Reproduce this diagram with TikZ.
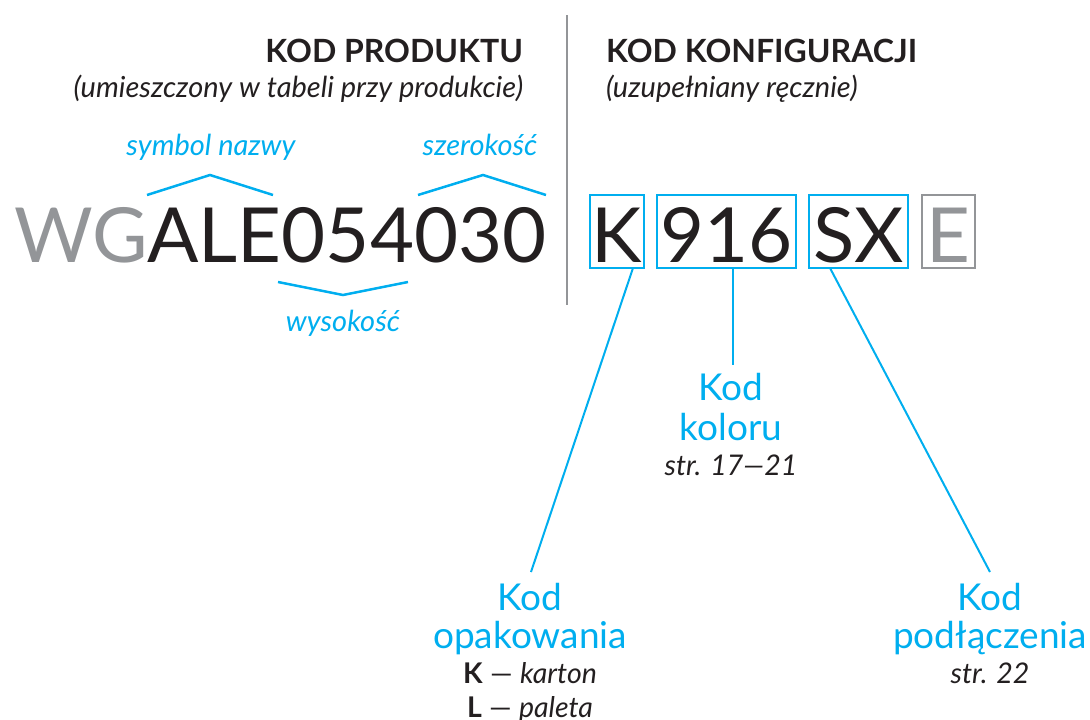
\documentclass[tikz,border=0pt]{standalone}
\usepackage{fontspec}
\setmainfont{Lato}
\usetikzlibrary{calc}
\definecolor{cy}{HTML}{00AEEF}
\definecolor{gr}{HTML}{939598}
\definecolor{tx}{HTML}{231F20}
\begin{document}
\begin{tikzpicture}[x=1pt,y=-1pt,
  every node/.style={inner sep=0pt,outer sep=0pt,text=tx},
  big/.style={font=\fontsize{76}{76}\selectfont},
  head/.style={font=\fontsize{32}{32}\selectfont\bfseries},
  sub/.style={font=\fontsize{29}{29}\selectfont\itshape},
  lab/.style={font=\fontsize{29}{29}\selectfont\itshape,text=cy},
  kod/.style={font=\fontsize{37}{37}\selectfont,text=cy,anchor=base},
  note/.style={font=\fontsize{28.5}{28.5}\selectfont,anchor=base},
  box/.style={draw=cy,line width=2pt,minimum width=#1,minimum height=73pt},
  brace/.style={draw=cy,line width=2.5pt},
  conn/.style={draw=cy,line width=2pt}]
\useasboundingbox (0,0) rectangle (1090,720);
% headings
\node[head,anchor=base east] (hp) at (523,62) {KOD PRODUKTU};
\node[sub,anchor=base east] (hps) at (523,97) {(umieszczony w tabeli przy produkcie)};
\node[head,anchor=base west] (hk) at (606,62) {KOD KONFIGURACJI};
\node[sub,anchor=base west] (hks) at (606,97) {(uzupełniany ręcznie)};
% divider
\draw[gr,line width=2pt] (567,15) -- (567,305);
% product code
\node[big,anchor=base west] (code) at (14,262) {\textcolor{gr}{WG}ALE054030};
% labels and braces
\node[lab,anchor=base] (sym) at (211,155) {symbol nazwy};
\node[lab,anchor=base] (sze) at (480,155) {szerokość};
\node[lab,anchor=base] (wys) at (343,331) {wysokość};
\draw[brace] (147,195) -- (210,175) -- (273,195);
\draw[brace] (418,195) -- (483,175) -- (546,195);
\draw[brace] (278,282) -- (343,295) -- (408,282);
% configuration boxes
\node[box=54pt] (bK) at (617,231.5) {};
\node[box=139pt] (b9) at (726.5,231.5) {};
\node[box=99pt] (bS) at (858.5,231.5) {};
\node[box=53pt,draw=gr] (bE) at (948.5,231.5) {};
\node[big,anchor=base] (tK) at (617,262) {K};
\node[big,anchor=base] (t9) at (726.5,262) {916};
\node[big,anchor=base] (tS) at (858.5,262) {SX};
\node[big,anchor=base,text=gr] (tE) at (948.5,262) {E};
% Kod koloru
\node[kod] (kk1) at (731,400) {Kod};
\node[kod] (kk2) at (731,440) {koloru};
\node[note] (kk3) at (731,475) {\itshape str. 17—21};
% Kod opakowania
\node[kod] (ko1) at (530,610) {Kod};
\node[kod] (ko2) at (530,648) {opakowania};
\node[note] (ko3) at (530,683) {\textbf{K} — \textit{karton}};
\node[note] (ko4) at (530,717) {\textbf{L} — \textit{paleta}};
% Kod podlaczenia
\node[kod] (kp1) at (990,610) {Kod};
\node[kod] (kp2) at (990,648) {podłączenia};
\node[note] (kp3) at (990,683) {\itshape str. 22};
% connectors
\coordinate (eK) at ($(bK.south east)+(-11,0)$);
\coordinate (eS) at ($(bS.south west)+(21,0)$);
\coordinate (eO) at (531,572);
\coordinate (eP) at (990,572);
\coordinate (eC) at (733,365);
\draw[conn] (eK) -- (eO);
\draw[conn] (b9.south -| eC) -- (eC);
\draw[conn] (eS) -- (eP);
\end{tikzpicture}
\end{document}
